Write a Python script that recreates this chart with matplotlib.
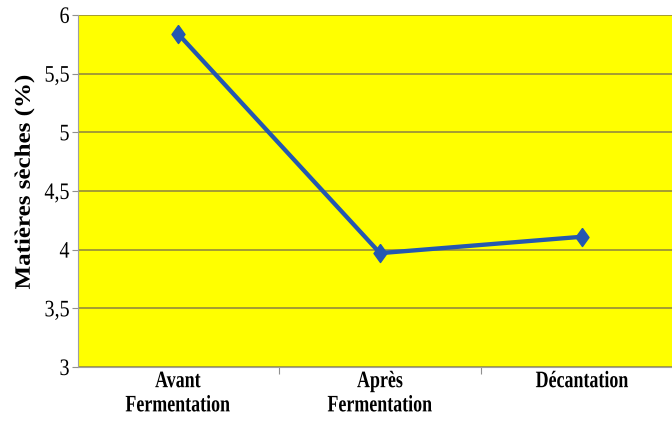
import matplotlib
matplotlib.use("Agg")
import matplotlib.pyplot as plt
from matplotlib.ticker import FixedLocator, FuncFormatter
from matplotlib.patheffects import AbstractPathEffect
from matplotlib.transforms import Affine2D

categories = ["Avant\nFermentation", "Après\nFermentation", "Décantation"]
values = [5.84, 3.97, 4.11]
yticks = [3, 3.5, 4, 4.5, 5, 5.5, 6]


class Condense(AbstractPathEffect):
    """Draw text glyphs narrower (the reference picture is horizontally squeezed)."""
    def __init__(self, sx=1.0, sy=1.0, anchor="center"):
        super().__init__()
        self.sx, self.sy, self.anchor = sx, sy, anchor

    def draw_path(self, renderer, gc, tpath, affine, rgbFace=None):
        v = tpath.vertices
        if len(v):
            if self.anchor == "right":
                ax0 = v[:, 0].max()
            else:
                ax0 = 0.5 * (v[:, 0].min() + v[:, 0].max())
        else:
            ax0 = 0.0
        pre = Affine2D().translate(-ax0, 0).scale(self.sx, self.sy).translate(ax0, 0)
        renderer.draw_path(gc, tpath, pre + affine, rgbFace)


fig = plt.figure(figsize=(6.72, 4.26), dpi=100)
ax = fig.add_axes([0.116, 0.1385, 0.884, 0.8265])
ax.set_facecolor("#ffff00")

diamond = [(0, 1), (0.72, 0), (0, -1), (-0.72, 0), (0, 1)]
x = list(range(len(values)))
ax.plot(x, values, color="#2457b0", lw=3.1, marker=diamond, markersize=13,
        markerfacecolor="#2457b0", markeredgecolor="#2457b0", markeredgewidth=1,
        zorder=3)

ax.set_ylim(3, 6)
ax.set_xlim(-0.495, 2.445)
ax.set_yticks(yticks)
ax.yaxis.set_major_formatter(FuncFormatter(lambda v, p: (f"{v:g}").replace(".", ",")))
ax.grid(axis="y", color="#958c3c", lw=1.2)
ax.set_axisbelow(True)

# category separators (tick marks) and labels
ax.xaxis.set_major_locator(FixedLocator([0.5, 1.5]))
ax.xaxis.set_major_formatter(FuncFormatter(lambda v, p: ""))
ax.xaxis.set_minor_locator(FixedLocator(x))
ax.set_xticklabels(categories, minor=True, fontfamily="Liberation Serif",
                   fontweight="bold", fontsize=17, linespacing=1.2)
for lbl in ax.get_xticklabels(minor=True):
    lbl.set_path_effects([Condense(sx=0.76)])
ax.tick_params(axis="x", which="major", length=5, color="#909090", direction="out")
ax.tick_params(axis="x", which="minor", length=0, pad=3)
ax.tick_params(axis="y", length=4.5, color="#909090", direction="out", pad=1.5)
for lbl in ax.get_yticklabels():
    lbl.set_fontfamily("Liberation Serif")
    lbl.set_fontsize(17)
    lbl.set_path_effects([Condense(sx=0.85, anchor="right")])

for s in ["top", "right"]:
    ax.spines[s].set_visible(False)
ax.spines["left"].set_color("#a0a0a0")
ax.spines["bottom"].set_color("#a0a0a0")

ylab = ax.set_ylabel("Matières sèches (%)", fontfamily="Liberation Serif",
                     fontweight="bold", fontsize=18, labelpad=2)
ylab.set_path_effects([Condense(sy=0.88)])
ax.yaxis.set_label_coords(-0.072, 0.525)

fig.savefig("out.png", dpi=100)
